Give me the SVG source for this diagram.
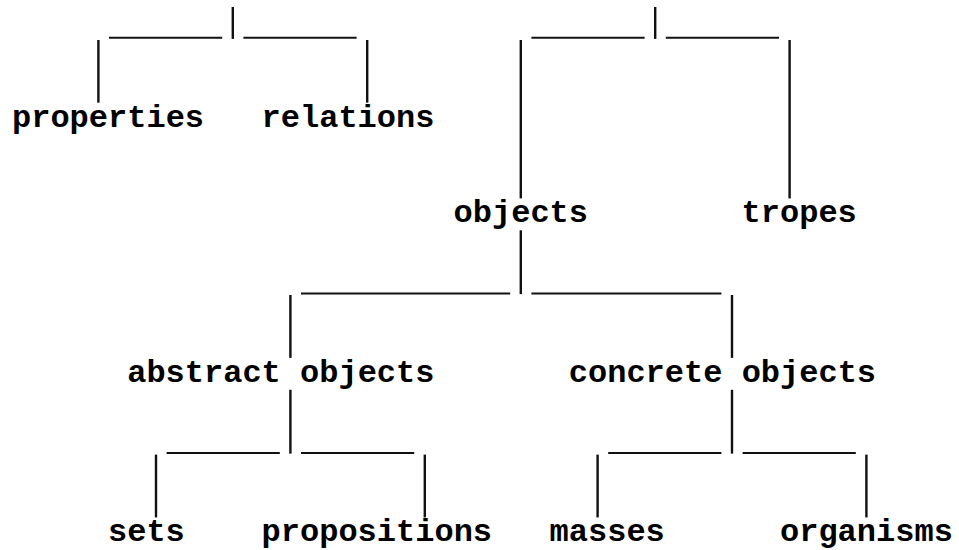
<svg xmlns="http://www.w3.org/2000/svg" width="959" height="550" viewBox="0 0 959 550">
  <style>
    .lbl { font-family: "Liberation Mono", "Courier New", monospace; font-weight: bold; font-size: 32px; fill: #000; }
    .bar { stroke: #111; stroke-width: 2.4; fill: none; }
    .und { stroke: #111; stroke-width: 2; fill: none; }
  </style>
  <rect x="0" y="0" width="959" height="550" fill="#fff"/>
  <g id="connectors">
    <!-- tree 1: properties / relations -->
    <line class="bar" x1="232.8" y1="7" x2="232.8" y2="38.9"/>
    <line class="und" x1="109" y1="37.8" x2="222.2" y2="37.8"/>
    <line class="und" x1="243.4" y1="37.8" x2="356.6" y2="37.8"/>
    <line class="bar" x1="98.4" y1="40" x2="98.4" y2="102.7"/>
    <line class="bar" x1="367.2" y1="40" x2="367.2" y2="102.7"/>
    <!-- tree 2: objects / tropes -->
    <line class="bar" x1="655.2" y1="7" x2="655.2" y2="38.9"/>
    <line class="und" x1="531.4" y1="37.8" x2="644.6" y2="37.8"/>
    <line class="und" x1="665.8" y1="37.8" x2="779" y2="37.8"/>
    <line class="bar" x1="520.8" y1="40" x2="520.8" y2="198.4"/>
    <line class="bar" x1="789.6" y1="40" x2="789.6" y2="198.4"/>
    <!-- objects: abstract / concrete -->
    <line class="bar" x1="520.8" y1="230.3" x2="520.8" y2="294.1"/>
    <line class="und" x1="301" y1="293.5" x2="510.2" y2="293.5"/>
    <line class="und" x1="531.4" y1="293.5" x2="721.4" y2="293.5"/>
    <line class="bar" x1="290.4" y1="295" x2="290.4" y2="357.9"/>
    <line class="bar" x1="732" y1="295" x2="732" y2="357.9"/>
    <!-- abstract objects: sets / propositions -->
    <line class="bar" x1="290.4" y1="389.8" x2="290.4" y2="453.6"/>
    <line class="und" x1="166.6" y1="453" x2="279.8" y2="453"/>
    <line class="und" x1="301" y1="453" x2="414.2" y2="453"/>
    <line class="bar" x1="156" y1="454.6" x2="156" y2="517.4"/>
    <line class="bar" x1="424.8" y1="454.6" x2="424.8" y2="517.4"/>
    <!-- concrete objects: masses / organisms -->
    <line class="bar" x1="732" y1="389.8" x2="732" y2="453.6"/>
    <line class="und" x1="608.2" y1="453" x2="721.4" y2="453"/>
    <line class="und" x1="742.6" y1="453" x2="855.8" y2="453"/>
    <line class="bar" x1="597.6" y1="454.6" x2="597.6" y2="517.4"/>
    <line class="bar" x1="866.4" y1="454.6" x2="866.4" y2="517.4"/>
  </g>
  <g id="node-properties"><text class="lbl" x="12" y="126.7">properties</text></g>
  <g id="node-relations"><text class="lbl" x="261.6" y="126.7">relations</text></g>
  <g id="node-objects"><text class="lbl" x="453.6" y="222.4">objects</text></g>
  <g id="node-tropes"><text class="lbl" x="741.6" y="222.4">tropes</text></g>
  <g id="node-abstract-objects"><text class="lbl" x="127.2" y="381.9">abstract objects</text></g>
  <g id="node-concrete-objects"><text class="lbl" x="568.8" y="381.9">concrete objects</text></g>
  <g id="node-sets"><text class="lbl" x="108" y="541.4">sets</text></g>
  <g id="node-propositions"><text class="lbl" x="261.6" y="541.4">propositions</text></g>
  <g id="node-masses"><text class="lbl" x="549.6" y="541.4">masses</text></g>
  <g id="node-organisms"><text class="lbl" x="780" y="541.4">organisms</text></g>
</svg>
